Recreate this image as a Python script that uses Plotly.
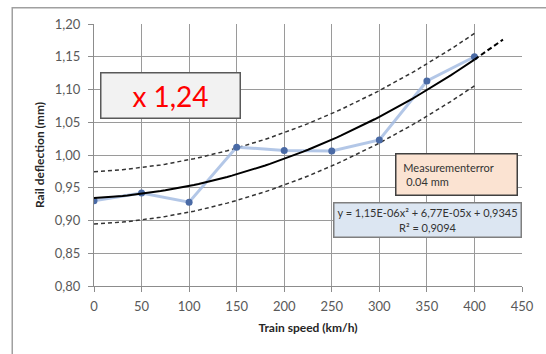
import plotly.graph_objects as go

# measured rail deflection vs train speed
speed = [0, 50, 100, 150, 200, 250, 300, 350, 400]
deflection = [0.930, 0.942, 0.928, 1.012, 1.007, 1.006, 1.023, 1.113, 1.150]

# polynomial trend (Excel) and +/- measurement error band
coef = [1.15e-06, 6.77e-05, 0.9345]
err = 0.04
fit_x = list(range(0, 401, 5))
ext_x = list(range(400, 431, 5))


def poly(x):
    return coef[0] * x * x + coef[1] * x + coef[2]


fig = go.Figure()
fig.add_trace(go.Scatter(x=fit_x, y=[poly(v) + err for v in fit_x], mode='lines',
                         line=dict(color='#333333', width=1.5, dash='4px,3px'), hoverinfo='skip'))
fig.add_trace(go.Scatter(x=fit_x, y=[poly(v) - err for v in fit_x], mode='lines',
                         line=dict(color='#333333', width=1.5, dash='4px,3px'), hoverinfo='skip'))
fig.add_trace(go.Scatter(x=speed, y=deflection, mode='lines+markers',
                         line=dict(color='rgba(160,185,225,0.8)', width=3),
                         marker=dict(color='#4a6aa5', size=7)))
fig.add_trace(go.Scatter(x=fit_x, y=[poly(v) for v in fit_x], mode='lines',
                         line=dict(color='black', width=2)))
fig.add_trace(go.Scatter(x=ext_x, y=[poly(v) for v in ext_x], mode='lines',
                         line=dict(color='black', width=2, dash='5px,3px')))

font = "Lato, 'Liberation Sans', sans-serif"
fig.update_layout(
    width=546, height=354,
    margin=dict(l=94, r=13, t=24, b=68),
    paper_bgcolor='white', plot_bgcolor='white',
    showlegend=False,
    separators=',.',
    font=dict(family=font, size=13, color='#595959'),
    xaxis=dict(range=[0, 450], dtick=50, showgrid=True, gridcolor='#9a9a9a', gridwidth=1,
               showline=True, linecolor='#8c8c8c', ticks='outside', ticklen=5, tickcolor='#8c8c8c',
               zeroline=False, ticklabelstandoff=3,
               title=dict(text='<b>Train speed (km/h)</b>', font=dict(size=12, color='#262626'), standoff=11)),
    yaxis=dict(range=[0.8, 1.2], dtick=0.05, tickformat='.2f', showgrid=True, gridcolor='#9a9a9a',
               gridwidth=1, showline=True, linecolor='#8c8c8c', ticks='outside', ticklen=5,
               tickcolor='#8c8c8c', zeroline=False, ticklabelstandoff=5,
               title=dict(text='<b>Rail deflection (mm)</b>', font=dict(size=12, color='#262626'), standoff=7)),
)

# outer chart frame
fig.add_shape(type='rect', xref='paper', yref='paper', x0=-0.191, x1=1.2, y0=-0.4, y1=1.062,
              line=dict(color='#a0a0a0', width=1.5), layer='below')

fig.add_annotation(x=80, y=1.0916, text='x 1,24', showarrow=False,
                   font=dict(size=28, color='#ff0000', family=font),
                   bgcolor='#f2f2f2', bordercolor='#595959', borderwidth=1.5, width=136, height=42)
fig.add_annotation(x=381, y=0.9695, text='&nbsp;Measurementerror<br>&nbsp;&nbsp;0.04 mm', showarrow=False,
                   align='left', font=dict(size=11, color='#333333', family=font),
                   bgcolor='#fbe3d2', bordercolor='#404040', borderwidth=1.5, width=112, height=32,
                   borderpad=4)
fig.add_annotation(x=350.4, y=0.9015,
                   text='y = 1,15E-06x² + 6,77E-05x + 0,9345<br>R² = 0,9094', showarrow=False,
                   font=dict(size=11, color='#333333', family=font),
                   bgcolor='#dce6f2', bordercolor='#7f7f7f', borderwidth=1.5, width=184, height=31)

# page body margin would shift the chart by 8px
fig.write_html("out.html", config={'displayModeBar': False},
               post_script="document.body.style.margin='0';")
